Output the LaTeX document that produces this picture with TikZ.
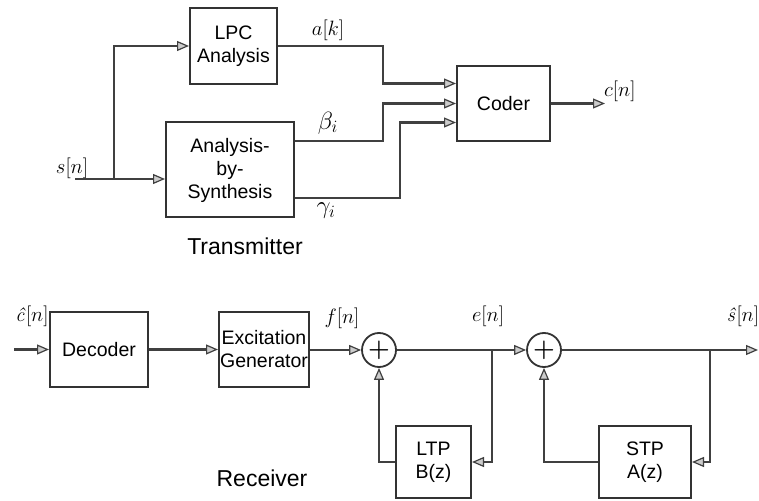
\documentclass[tikz,border=0pt]{standalone}
\usepackage{fontspec}
\setsansfont{Liberation Sans}
\usepackage{tikz}
\usetikzlibrary{arrows.meta}
\usetikzlibrary{calc}
\usetikzlibrary{positioning}

\begin{document}
\begin{tikzpicture}[
  x=1pt, y=1pt,
  % every node/.style={font=\sffamily},
  blk/.style={draw=black!80, line width=2pt, rectangle, inner sep=0pt, align=center,
    font=\sffamily\fontsize{19.5}{23}\selectfont},
  sumNode/.style={draw=black!80, line width=1.8pt, circle, minimum size=34pt, inner sep=0pt,
    font=\boldmath\fontsize{24}{24}\selectfont},
  sigLabel/.style={font=\fontsize{20}{24}\selectfont, inner sep=1pt},
  greekLabel/.style={sigLabel, font=\fontsize{25}{28}\selectfont},
  titleLabel/.style={font=\sffamily\fontsize{23}{26}\selectfont},
  wire/.style={draw=black!75, line width=2.4pt},
  sig/.style={wire, -{Triangle[length=12pt,width=10pt,fill=gray!40,line width=1.2pt]}},
]
\useasboundingbox (0,0) rectangle (759,500);

% --- Begin Transmitter ---

\begin{scope}
\node[blk, minimum width=87pt, minimum height=76pt] (lpc) at (233.5,454) {LPC\\Analysis};
\node[blk, minimum width=128pt, minimum height=95pt] (abs) at (230,330) {Analysis-\\by-\\Synthesis};
\node[blk, minimum width=93pt, minimum height=75pt] (coder) at (503.5,396.5) {Coder};

\coordinate (sIn) at (75,321);
\coordinate (sSplit) at (114,321);
\coordinate (colA) at (383,0);
\coordinate (colC) at (400,0);
\coordinate (inA) at ($(coder.west)+(0,20)$);
\coordinate (inC) at ($(coder.west)+(0,-19)$);
\coordinate (outB) at ($(abs.east)+(0,29)$);
\coordinate (outC) at ($(abs.east)+(0,-28)$);
\coordinate (cOut) at (605,396.5);

\node[sigLabel] (sLbl) at (72,332) {$s[n]$};
\node[sigLabel] (akLbl) at (328,470) {$a[k]$};
\node[greekLabel] (betaLbl) at (328,377) {$\beta_i$};
\node[greekLabel] (gammaLbl) at (326,289) {$\gamma_i$};
\node[sigLabel, anchor=west] (cLbl) at (603,409) {$c[n]$};
\node[titleLabel] (txLbl) at (245,254) {Transmitter};

\draw[sig] (sIn) -- (abs.west |- sIn);
\draw[sig] (sSplit) |- (lpc.west);
\draw[sig] (lpc.east) -| (colA |- inA) -- (inA);
\draw[sig] (outB) -| (colA |- coder.west) -- (coder.west);
\draw[sig] (outC) -| (colC |- inC) -- (inC);
\draw[sig] (coder.east) -- (cOut);
\end{scope}

% --- Begin Receiver ---

\begin{scope}
\node[blk, minimum width=98pt, minimum height=75pt] (dec) at (99,150.5) {Decoder};
\node[blk, minimum width=90pt, minimum height=75pt] (exc) at (264,150.5) {Excitation\\Generator};
\node[sumNode] (add1) at (379,150) {$+$};
\node[sumNode] (add2) at (544,150) {$+$};
\node[blk, minimum width=75pt, minimum height=72pt] (ltp) at (433.5,38) {LTP\\B(z)};
\node[blk, minimum width=92pt, minimum height=72pt] (stp) at (645,38) {STP\\A(z)};

\coordinate (cIn) at (14,150.5);
\coordinate (eBr) at (492,150);
\coordinate (sBr) at (710,150);
\coordinate (sOut) at (758,150);

\node[sigLabel] (chatLbl) at (32,184) {\textit{ĉ}$[n]$};
\node[sigLabel] (fLbl) at (342,182) {$f[n]$};
\node[sigLabel] (eLbl) at (488,184) {$e[n]$};
\node[sigLabel] (shatLbl) at (743,184) {\textit{ŝ}$[n]$};
\node[titleLabel] (rxLbl) at (262,22) {Receiver};

\draw[sig] (cIn) -- (dec.west);
\draw[sig] (dec.east) -- (dec.east -| exc.west);
\draw[sig] (exc.east |- add1) -- (add1.west);
\draw[sig] (add1.east) -- (add2.west);
\draw[sig] (add2.east) -- (sOut);

\foreach \sumN/\blkN/\brN in {add1/ltp/eBr, add2/stp/sBr} {
  \draw[sig] (\brN) |- (\blkN.east);
  \draw[sig] (\blkN.west) -| (\sumN.south);
}
\end{scope}

\end{tikzpicture}
\end{document}
